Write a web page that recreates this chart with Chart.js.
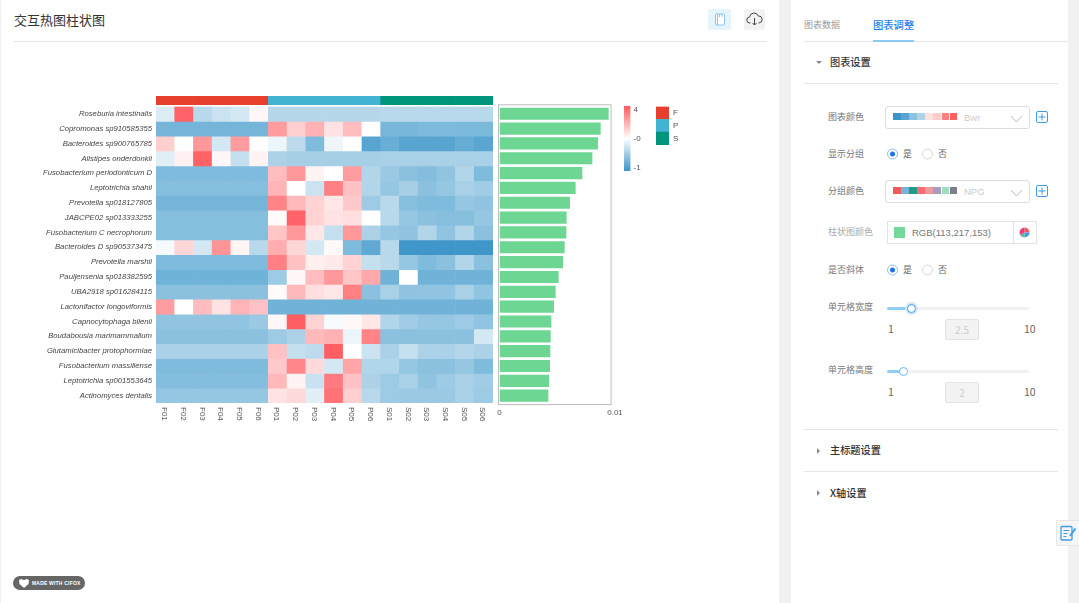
<!DOCTYPE html>
<html>
<head>
<meta charset="utf-8">
<script src="https://cdn.jsdelivr.net/npm/chart.js@4/dist/chart.umd.min.js"></script>
<style>
  html, body { margin: 0; padding: 0; }
  body { width: 1079px; height: 603px; background: #f1f1f1; overflow: hidden; position: relative;
    font-family: "Noto Sans CJK SC", "Liberation Sans", sans-serif; color: #333; }
  .abs { position: absolute; }
  .card { position: absolute; background: #fff; top: 0; height: 603px; }
  canvas { position: absolute; display: block; }
  .txt { position: absolute; white-space: nowrap; line-height: 14px; transform: translateY(-50%); }
  .line { position: absolute; height: 1px; background: #e6e6e6; }
  .lab { font-size: 9px; color: #777; left: 828px; }
  .head { font-size: 10.2px; color: #333; left: 830px; font-weight: 500; }
  .select { position: absolute; left: 885px; width: 143px; height: 21px; border: 1px solid #dcdcdc; border-radius: 3px; background: #fff; }
  .swatches { position: absolute; left: 7px; top: 6px; display: flex; gap: 0.5px; }
  .swatches i { display: block; width: 7.6px; height: 7px; }
  .plus { position: absolute; left: 1036px; width: 10px; height: 10px; border: 1px solid #3d9be9; border-radius: 2px; color: #3d9be9; }
  .radio { position: absolute; width: 9px; height: 9px; border: 1px solid #d8d8d8; border-radius: 50%; background: #fff; transform: translateY(-50%); }
  .radio.on { border-color: #8fbdf0; }
  .radio.on:after { content: ""; position: absolute; left: 2px; top: 2px; width: 5px; height: 5px; border-radius: 50%; background: #1a73e8; }
  .track { position: absolute; left: 887px; width: 142px; height: 3px; background: #f1f1f1; border-radius: 2px; }
  .track b { position: absolute; left: 0; top: 0; height: 3px; background: #8fcdf7; border-radius: 2px; }
  .knob { position: absolute; width: 7px; height: 7px; border: 1px solid #6bb8f2; border-radius: 50%; background: #fff; }
  .num { position: absolute; left: 945px; width: 32px; height: 19px; border: 1px solid #e3e3e3; border-radius: 2px; background: #f3f3f3;
    color: #ccc; font-size: 10px; line-height: 19px; text-align: center; }
  .tri { position: absolute; width: 0; height: 0; }
</style>
</head>
<body>
<div class="card" style="left:1px;width:778px"></div>
<div class="card" style="left:791px;width:277px"></div>

<div class="txt" style="left:14px;top:20px;font-size:13px;color:#333">交互热图柱状图</div>
<div class="line" style="left:13px;top:41px;width:753px"></div>

<div class="abs" style="left:708px;top:9px;width:23px;height:21px;background:#e6f4fb;border-radius:2px">
  <svg width="23" height="21"><rect x="7.5" y="5" width="9" height="11" rx="1" fill="#fff" stroke="#8cc6ec"/><path d="M9.5 5v11M11.5 5v3M14 5v3" stroke="#8cc6ec" fill="none"/></svg>
</div>
<div class="abs" style="left:744px;top:9px;width:21px;height:21px;background:#f2f2f2;border-radius:2px">
  <svg width="21" height="21"><path d="M6.5 14H6a3 3 0 0 1-.4-6A4.5 4.5 0 0 1 14.3 7 3.5 3.5 0 0 1 15 14h-.5" fill="none" stroke="#444"/><path d="M10.5 9v7M8.5 14l2 2 2-2" fill="none" stroke="#444"/></svg>
</div>

<canvas id="chart-groups" width="337" height="9" style="left:156px;top:95.5px"></canvas>
<canvas id="chart-heat" width="493" height="320" style="left:0;top:103px"></canvas>
<canvas id="chart-bars" width="130" height="320" style="left:495px;top:103px"></canvas>
<canvas id="chart-scale" width="30" height="72" style="left:620px;top:103px"></canvas>
<canvas id="chart-legend" width="38" height="44" style="left:652px;top:104px"></canvas>

<div class="abs" style="left:13px;top:576px;width:72px;height:14px;border-radius:7px;background:#666;color:#fff;font:bold 5px 'Liberation Sans';line-height:14px;text-indent:19px;letter-spacing:.2px">MADE WITH CIFOX
  <svg class="abs" style="left:6px;top:2.5px" width="10" height="9"><path d="M0 1l2.5-1L5 1.2 7.5 0 10 1l-.5 4L5 9 .5 5z" fill="#fff"/></svg>
</div>

<!-- right panel -->
<div class="txt" style="left:804px;top:25px;font-size:9px;color:#999">图表数据</div>
<div class="txt" style="left:873px;top:25px;font-size:10.3px;color:#1a80f0;font-weight:500">图表调整</div>
<div class="line" style="left:804px;top:40.5px;width:264px"></div>
<div class="abs" style="left:873px;top:40px;width:41px;height:1.5px;background:#8fcaf5"></div>

<div class="tri" style="left:816px;top:60.5px;border-left:3px solid transparent;border-right:3px solid transparent;border-top:3.5px solid #888"></div>
<div class="txt head" style="top:62px">图表设置</div>
<div class="line" style="left:804px;top:83px;width:254px"></div>

<div class="txt lab" style="top:117px">图表颜色</div>
<div class="select" style="top:106px">
  <div class="swatches" id="sw-bwr"></div>
  <span class="txt" style="left:78px;top:11px;font-size:9.5px;color:#ccc;font-family:'Liberation Sans'">Bwr</span>
  <svg class="abs" style="left:124px;top:8px" width="14" height="8"><path d="M1 1l5.5 6L12 1" fill="none" stroke="#bbb"/></svg>
</div>
<div class="plus" style="top:111px"><svg class="abs" width="10" height="10"><path d="M5 1.5v7M1.5 5h7" stroke="#3d9be9"/></svg></div>

<div class="txt lab" style="top:154px">显示分组</div>
<div class="radio on" style="left:887px;top:154px"></div>
<div class="txt" style="left:903px;top:154px;font-size:9px;color:#666">是</div>
<div class="radio" style="left:922px;top:154px"></div>
<div class="txt" style="left:938px;top:154px;font-size:9px;color:#666">否</div>

<div class="txt lab" style="top:191px">分组颜色</div>
<div class="select" style="top:180px">
  <div class="swatches" id="sw-npg"></div>
  <span class="txt" style="left:78px;top:11px;font-size:9.5px;color:#ccc;font-family:'Liberation Sans'">NPG</span>
  <svg class="abs" style="left:124px;top:8px" width="14" height="8"><path d="M1 1l5.5 6L12 1" fill="none" stroke="#bbb"/></svg>
</div>
<div class="plus" style="top:185px"><svg class="abs" width="10" height="10"><path d="M5 1.5v7M1.5 5h7" stroke="#3d9be9"/></svg></div>

<div class="txt lab" style="top:232px;color:#aaa">柱状图颜色</div>
<div class="abs" style="left:887px;top:221px;width:148px;height:21px;border:1px solid #e2e2e2;background:#fff">
  <div class="abs" style="left:6px;top:5px;width:11px;height:11px;background:rgb(113,217,153)"></div>
  <span class="txt" style="left:24px;top:11px;font-size:9.5px;color:#777;font-family:'Liberation Sans'">RGB(113,217,153)</span>
  <div class="abs" style="left:125px;top:0;width:1px;height:21px;background:#e2e2e2"></div>
  <svg class="abs" style="left:131px;top:5px" width="11" height="11">
    <path d="M5.5 5.5V.5a5 5 0 0 1 5 5z" fill="#f25a5e"/><path d="M5.5 5.5h5a5 5 0 0 1-5 5z" fill="#3d9be9"/>
    <path d="M5.5 5.5v5a5 5 0 0 1-4.3-2.5z" fill="#5bb98c"/><path d="M5.5 5.5L1.2 8A5 5 0 0 1 5.5.5z" fill="#ee3f7a"/>
  </svg>
</div>

<div class="txt lab" style="top:270px">是否斜体</div>
<div class="radio on" style="left:887px;top:270px"></div>
<div class="txt" style="left:903px;top:270px;font-size:9px;color:#666">是</div>
<div class="radio" style="left:922px;top:270px"></div>
<div class="txt" style="left:938px;top:270px;font-size:9px;color:#666">否</div>

<div class="txt lab" style="top:307px">单元格宽度</div>
<div class="track" style="top:307px"><b style="width:24px"></b></div>
<div class="abs" style="left:904.5px;top:301.5px;width:13px;height:13px;border-radius:50%;background:#d5e8f8"></div>
<div class="knob" style="left:907px;top:304px;border-color:#3d9be9"></div>
<div class="txt" style="left:888px;top:329px;font-size:10.5px;color:#666">1</div>
<div class="num" style="top:319px">2.5</div>
<div class="txt" style="left:1024px;top:329px;font-size:10.5px;color:#666">10</div>

<div class="txt lab" style="top:370px">单元格高度</div>
<div class="track" style="top:370px"><b style="width:16px"></b></div>
<div class="knob" style="left:899px;top:367px"></div>
<div class="txt" style="left:888px;top:392px;font-size:10.5px;color:#666">1</div>
<div class="num" style="top:382px">2</div>
<div class="txt" style="left:1024px;top:392px;font-size:10.5px;color:#666">10</div>

<div class="line" style="left:804px;top:429px;width:254px"></div>
<div class="tri" style="left:817px;top:447.5px;border-top:3px solid transparent;border-bottom:3px solid transparent;border-left:3.5px solid #888"></div>
<div class="txt head" style="top:450px">主标题设置</div>
<div class="line" style="left:804px;top:471px;width:254px"></div>
<div class="tri" style="left:817px;top:490px;border-top:3px solid transparent;border-bottom:3px solid transparent;border-left:3.5px solid #888"></div>
<div class="txt head" style="top:493px">X轴设置</div>

<div class="abs" style="left:1056px;top:520px;width:23px;height:26px;background:#f6f6f6;border:1px solid #e6e6e6;border-right:none;box-sizing:border-box;border-radius:2px 0 0 2px">
  <svg width="22" height="24"><rect x="4" y="5.5" width="11" height="13.5" rx="1" fill="none" stroke="#3d9be9" stroke-width="1.3"/><path d="M6.5 9.5h6M6.5 12.5h4M6.5 15.5h3" stroke="#3d9be9"/><path d="M13 15l5.5-7.5" stroke="#3d9be9" stroke-width="2"/></svg>
</div>

<script>
var columns = ['F01', 'F02', 'F03', 'F04', 'F05', 'F06', 'P01', 'P02', 'P03', 'P04', 'P05', 'P06', 'S01', 'S02', 'S03', 'S04', 'S05', 'S06'];
var rowNames = ['Roseburia intestinalis', 'Copromonas sp910585355', 'Bacteroides sp900765785', 'Alistipes onderdonkii',
  'Fusobacterium periodonticum D', 'Leptotrichia shahii', 'Prevotella sp018127805', 'JABCPE02 sp013333255',
  'Fusobacterium C necrophorum', 'Bacteroides D sp905373475', 'Prevotella marshii', 'Pauljensenia sp018382595',
  'UBA2918 sp016284115', 'Lactonifactor longoviformis', 'Capnocytophaga bilenii', 'Boudabousia marimammalium',
  'Glutamicibacter protophormiae', 'Fusobacterium massiliense', 'Leptotrichia sp001553645', 'Actinomyces dentalis'];

// one row per species, same order as columns
var heatValues = [
  [-0.15, 3.8, -0.3, -0.22, -0.18, 0.2, -0.31, -0.31, -0.31, -0.31, -0.31, -0.31, -0.3, -0.3, -0.3, -0.3, -0.3, -0.3],
  [-0.6, -0.6, -0.6, -0.6, -0.6, -0.6, 2.4, 1.2, 1.9, 0.7, 1.6, 0, -0.58, -0.58, -0.56, -0.56, -0.57, -0.57],
  [1.2, 0, 2.5, -0.18, 2.4, 0.03, -0.08, -0.28, -0.55, -0.07, 0, -0.8, -0.68, -0.8, -0.8, -0.8, -0.7, -0.78],
  [-0.13, 0.35, 3.8, 0.2, -0.25, 0.3, -0.35, -0.38, -0.38, -0.38, -0.38, -0.38, -0.37, -0.37, -0.37, -0.37, -0.37, -0.37],
  [-0.55, -0.55, -0.55, -0.55, -0.55, -0.55, 1.6, 2.5, 0.3, 0, 2.4, -0.33, -0.43, -0.5, -0.53, -0.47, -0.33, -0.55],
  [-0.52, -0.52, -0.52, -0.52, -0.52, -0.52, 1.8, 0, -0.22, 3.1, 1.5, -0.33, -0.45, -0.38, -0.5, -0.45, -0.37, -0.4],
  [-0.6, -0.6, -0.6, -0.6, -0.6, -0.6, 3.0, 1.7, 1.1, 0.6, 1.3, -0.42, -0.3, -0.52, -0.55, -0.55, -0.45, -0.48],
  [-0.52, -0.52, -0.52, -0.52, -0.52, -0.52, 0.1, 3.8, 1.1, 0.7, 0.8, 0, -0.3, -0.45, -0.5, -0.52, -0.52, -0.45],
  [-0.52, -0.52, -0.52, -0.52, -0.52, -0.52, 1.4, 2.5, 0.6, -0.25, 2.5, -0.35, -0.45, -0.48, -0.33, -0.47, -0.33, -0.5],
  [-0.04, 1.0, -0.18, 2.6, 0.25, -0.3, 2.0, 1.0, -0.18, 0.15, -0.55, -0.75, -0.3, -0.98, -0.98, -0.98, -0.98, -0.98],
  [-0.55, -0.55, -0.55, -0.55, -0.55, -0.55, 3.1, 1.5, 0.4, 0.5, 1.1, -0.25, -0.3, -0.45, -0.55, -0.5, -0.33, -0.5],
  [-0.63, -0.63, -0.63, -0.63, -0.63, -0.63, -0.42, 0.2, 1.6, 2.5, 1.4, 2.1, -0.62, 0, -0.62, -0.62, -0.62, -0.62],
  [-0.5, -0.5, -0.5, -0.5, -0.5, -0.5, 0.1, 1.7, 0.8, 0.6, 3.1, -0.5, -0.37, -0.48, -0.47, -0.47, -0.37, -0.47],
  [2.4, 0, 1.6, 0.7, 1.8, 1.5, -0.62, -0.62, -0.62, -0.62, -0.62, -0.62, -0.62, -0.62, -0.62, -0.62, -0.62, -0.62],
  [-0.47, -0.47, -0.47, -0.47, -0.47, -0.43, 0.2, 3.9, 1.1, -0.03, 0.15, 0.6, -0.33, -0.4, -0.45, -0.45, -0.42, -0.47],
  [-0.5, -0.5, -0.5, -0.5, -0.5, -0.5, -0.42, -0.35, 1.7, 1.9, -0.08, 3.0, -0.5, -0.5, -0.5, -0.5, -0.5, -0.18],
  [-0.36, -0.36, -0.36, -0.36, -0.36, -0.36, 1.5, -0.25, -0.28, 3.9, 0, -0.22, -0.36, -0.25, -0.35, -0.36, -0.32, -0.35],
  [-0.55, -0.55, -0.55, -0.55, -0.55, -0.55, 1.3, 2.9, 0.9, -0.18, 2.2, -0.33, -0.33, -0.45, -0.5, -0.5, -0.45, -0.55],
  [-0.53, -0.53, -0.53, -0.53, -0.53, -0.53, 1.7, 0.3, -0.23, 3.2, 1.5, -0.35, -0.42, -0.37, -0.48, -0.42, -0.37, -0.4],
  [-0.45, -0.45, -0.45, -0.45, -0.45, -0.45, 0.7, 0.9, -0.12, 3.4, 1.2, -0.3, -0.42, -0.43, -0.43, -0.43, -0.37, -0.42]
];

var barValues = [0.00945, 0.00876, 0.00853, 0.00804, 0.00717, 0.00659, 0.0061, 0.00581, 0.00579, 0.00564,
  0.0055, 0.00512, 0.00486, 0.00472, 0.00449, 0.00443, 0.0044, 0.00437, 0.00429, 0.00423];
var barTicks = [0, 0.01];
var groupNames = ['F', 'P', 'S'];
var groupColors = ['#e6402c', '#42b3d2', '#00967d'];
var columnGroups = ['F', 'F', 'F', 'F', 'F', 'F', 'P', 'P', 'P', 'P', 'P', 'P', 'S', 'S', 'S', 'S', 'S', 'S'];
var scaleLabels = ['-1', '-0', '4'];
var bwrSwatch = ['#3d94c6', '#5ba4d2', '#8ec1de', '#b1d3e8', '#ffe0e0', '#ffcaca', '#ff7f7f', '#ff5f5f'];
var npgSwatch = ['#f25a5e', '#74b5d9', '#209c8b', '#ff6b70', '#f09a9d', '#a69dbe', '#9fdcc0', '#7c7f8b'];

Chart.defaults.font.family = '"Liberation Sans", Arial, sans-serif';
Chart.defaults.animation = false;

function mix(a, b, t) {
  var out = [];
  for (var i = 0; i < 3; i++) out.push(Math.round(a[i] + (b[i] - a[i]) * t));
  return 'rgb(' + out.join(',') + ')';
}

// value to colour, same stops as the colour bar
function cellColor(v) {
  var white = [255, 255, 255];
  if (v >= 0) return mix(white, [255, 90, 95], Math.min(v, 4) / 4);
  if (v > -0.3) return mix(white, [184, 216, 235], -v / 0.3);
  if (v > -0.6) return mix([184, 216, 235], [116, 181, 217], (-v - 0.3) / 0.3);
  return mix([116, 181, 217], [60, 148, 200], (-v - 0.6) / 0.4);
}

// tick labels must not push the chart area in, the panels are lined up by hand
function noPadding(scale) {
  scale.paddingTop = 0;
  scale.paddingBottom = 0;
  scale.paddingLeft = 0;
  scale.paddingRight = 0;
}

function initHeat() {
  var datasets = heatValues.map(function(row, i) {
    return {
      label: rowNames[i],
      data: row.map(function() { return 1; }),
      backgroundColor: row.map(cellColor),
      borderWidth: 0,
      barPercentage: 1,
      categoryPercentage: 1
    };
  });

  // rotated column labels, chart.js can only rotate them the other way round
  var columnLabels = {
    id: 'columnLabels',
    afterDraw: function(chart) {
      var ctx = chart.ctx, x = chart.scales.x;
      ctx.save();
      ctx.fillStyle = '#555';
      ctx.font = '8px "Liberation Sans"';
      ctx.textAlign = 'left';
      ctx.textBaseline = 'middle';
      columns.forEach(function(name, i) {
        ctx.save();
        ctx.translate(x.getPixelForTick(i) - 1, chart.chartArea.bottom + 4);
        ctx.rotate(Math.PI / 2);
        ctx.fillText(name, 0, 0);
        ctx.restore();
      });
      ctx.restore();
    }
  };

  new Chart(document.getElementById('chart-heat'), {
    type: 'bar',
    data: { labels: columns, datasets: datasets },
    plugins: [columnLabels],
    options: {
      responsive: false,
      devicePixelRatio: 1,
      layout: { padding: { top: 3.5 } },
      plugins: { legend: { display: false }, tooltip: { enabled: false } },
      scales: {
        x: {
          stacked: true,
          grid: { display: false },
          border: { display: false },
          ticks: { display: false },
          afterFit: function(scale) { scale.height = 20; noPadding(scale); }
        },
        y: {
          stacked: true,
          reverse: true,
          min: 0,
          max: rowNames.length,
          grid: { display: false, drawTicks: false },
          border: { display: false },
          afterBuildTicks: function(scale) {
            scale.ticks = rowNames.map(function(n, i) { return { value: i + 0.5 }; });
          },
          afterFit: function(scale) { scale.width = 156; noPadding(scale); },
          ticks: {
            autoSkip: false,
            padding: 4,
            color: '#444',
            font: { size: 7.7, style: 'italic' },
            callback: function(v, i) { return rowNames[i]; }
          }
        }
      }
    }
  });
}

function initGroups() {
  new Chart(document.getElementById('chart-groups'), {
    type: 'bar',
    data: {
      labels: columns,
      datasets: [{
        data: columns.map(function() { return 1; }),
        backgroundColor: columnGroups.map(function(g) { return groupColors[groupNames.indexOf(g)]; }),
        barPercentage: 1,
        categoryPercentage: 1
      }]
    },
    options: {
      responsive: false,
      devicePixelRatio: 1,
      plugins: { legend: { display: false }, tooltip: { enabled: false } },
      scales: { x: { display: false }, y: { display: false, min: 0, max: 1 } }
    }
  });
}

function initBars() {
  // box around the bars stops short of the 0.01 tick
  var boxEnd = 0.00966;
  var barBox = {
    id: 'barBox',
    afterDraw: function(chart) {
      var ctx = chart.ctx, a = chart.chartArea;
      ctx.save();
      ctx.strokeStyle = '#bdbdbd';
      ctx.lineWidth = 1;
      ctx.strokeRect(3.5, a.top - 1.5, chart.scales.x.getPixelForValue(boxEnd) - 3.5, a.bottom - a.top + 3);
      ctx.restore();
    }
  };

  new Chart(document.getElementById('chart-bars'), {
    type: 'bar',
    data: {
      labels: rowNames,
      datasets: [{
        data: barValues,
        backgroundColor: 'rgb(108,214,146)',
        barPercentage: 0.82,
        categoryPercentage: 1
      }]
    },
    plugins: [barBox],
    options: {
      indexAxis: 'y',
      responsive: false,
      devicePixelRatio: 1,
      layout: { padding: { top: 3.3, left: 4.5, right: 10 } },
      plugins: { legend: { display: false }, tooltip: { enabled: false } },
      scales: {
        y: { display: false },
        x: {
          min: 0,
          max: 0.01,
          grid: { display: false, drawTicks: false },
          border: { display: false },
          afterBuildTicks: function(scale) {
            scale.ticks = barTicks.map(function(v) { return { value: v }; });
          },
          afterFit: function(scale) { scale.height = 19.9; noPadding(scale); },
          ticks: {
            padding: 5,
            maxRotation: 0,
            color: '#555',
            font: { size: 8 },
            callback: function(v) { return v; }
          }
        }
      }
    }
  });
}

function initScale() {
  new Chart(document.getElementById('chart-scale'), {
    type: 'bar',
    data: {
      labels: ['scale'],
      datasets: [{
        data: [[-1.1, 1.14]],
        backgroundColor: function(context) {
          var a = context.chart.chartArea;
          if (!a) return '#fff';
          var g = context.chart.ctx.createLinearGradient(0, a.top, 0, a.bottom);
          g.addColorStop(0, cellColor(4));
          g.addColorStop(0.5, '#ffffff');
          g.addColorStop(1, cellColor(-1));
          return g;
        },
        barPercentage: 1,
        categoryPercentage: 1
      }]
    },
    options: {
      responsive: false,
      devicePixelRatio: 1,
      layout: { padding: { top: 3, bottom: 4, left: 4 } },
      plugins: { legend: { display: false }, tooltip: { enabled: false } },
      scales: {
        x: { display: false },
        y: {
          position: 'right',
          min: -1.1,
          max: 1.14,
          grid: { display: false, drawTicks: false },
          border: { display: false },
          afterBuildTicks: function(scale) {
            scale.ticks = scaleLabels.map(function(l, i) { return { value: i - 1 }; });
          },
          afterFit: function(scale) { scale.width = 19.5; noPadding(scale); },
          ticks: {
            padding: 3,
            color: '#555',
            font: { size: 8 },
            callback: function(v, i) { return scaleLabels[i]; }
          }
        }
      }
    }
  });
}

function initLegend() {
  new Chart(document.getElementById('chart-legend'), {
    type: 'bar',
    data: {
      labels: groupNames,
      datasets: [{
        data: groupNames.map(function() { return 1; }),
        backgroundColor: groupColors,
        barPercentage: 1,
        categoryPercentage: 1
      }]
    },
    options: {
      indexAxis: 'y',
      responsive: false,
      devicePixelRatio: 1,
      layout: { padding: { top: 2.5, bottom: 3, left: 4 } },
      plugins: { legend: { display: false }, tooltip: { enabled: false } },
      scales: {
        x: { display: false, min: 0, max: 1 },
        y: {
          position: 'right',
          grid: { display: false, drawTicks: false },
          border: { display: false },
          afterFit: function(scale) { scale.width = 21; noPadding(scale); },
          ticks: { padding: 4, color: '#555', font: { size: 8 } }
        }
      }
    }
  });
}

function fillSwatch(id, colors) {
  var box = document.getElementById(id);
  colors.forEach(function(c) {
    var s = document.createElement('i');
    s.style.background = c;
    box.appendChild(s);
  });
}

fillSwatch('sw-bwr', bwrSwatch);
fillSwatch('sw-npg', npgSwatch);
initGroups();
initHeat();
initBars();
initScale();
initLegend();
</script>
</body>
</html>
